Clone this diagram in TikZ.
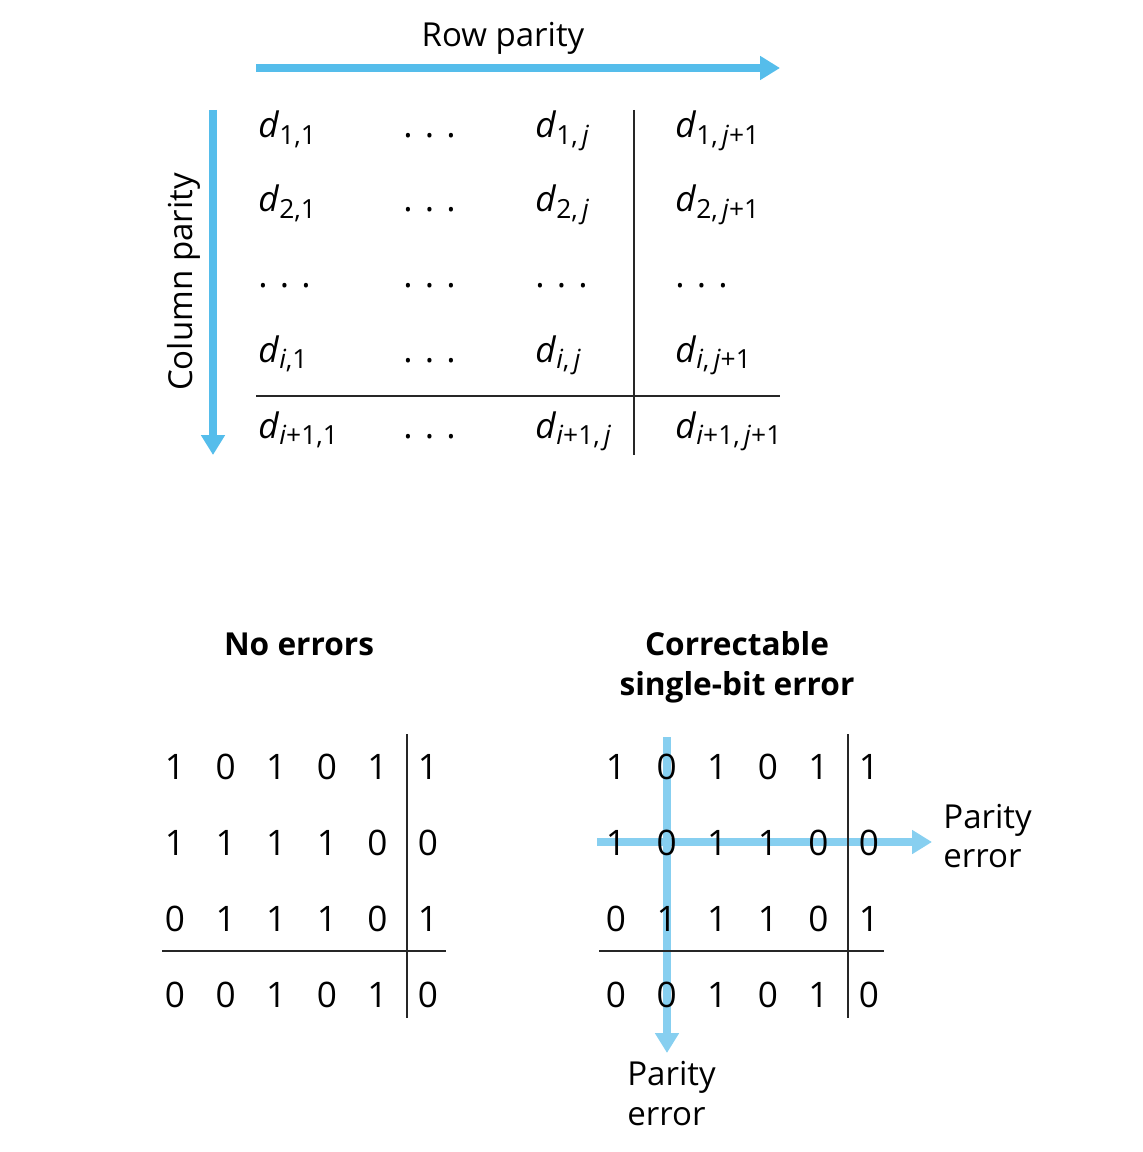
\documentclass[tikz,border=0pt]{standalone}
\usepackage{fontspec}
\setmainfont{Open Sans}
\usetikzlibrary{arrows.meta}

\definecolor{rowblue}{RGB}{85,189,235}
\definecolor{errblue}{RGB}{135,207,240}
% italic d with a lowered subscript
\newcommand{\dent}[1]{\textit{d}\raisebox{-3.6pt}{\fontsize{15}{15}\selectfont #1}}

\begin{document}
\begin{tikzpicture}[x=0.02cm, y=-0.02cm,
  lbl/.style={inner sep=0pt, font=\fontsize{18.8}{22}\selectfont},
  ttl/.style={inner sep=0pt, anchor=base, font=\fontsize{18}{22}\selectfont\bfseries},
  ent/.style={inner sep=0pt, anchor=base west, font=\fontsize{20}{22}\selectfont},
  bit/.style={inner sep=0pt, anchor=base, font=\fontsize{20}{24}\selectfont},
  rule/.style={line width=1.1pt, black!85},
  bluearrow/.style={line width=4.5pt, rowblue, -{Triangle[length=11.3pt,width=13pt]}},
  errarrow/.style={line width=4.5pt, errblue, -{Triangle[length=11.3pt,width=13pt]}}]
\useasboundingbox (0,0) rectangle (1142,1152);

% --- general layout ---
\node[lbl, anchor=base] (rowlbl) at (503,47) {Row parity};
\coordinate (rows) at (256,68); \coordinate (rowe) at (780,68);
\draw[bluearrow] (rows) -- (rowe);
\node[lbl, anchor=base, rotate=90] (collbl) at (192,282) {Column parity};
\coordinate (cols) at (213,110); \coordinate (cole) at (213,455);
\draw[bluearrow] (cols) -- (cole);

\node[ent] (d11) at (258,138) {\dent{1,1}};
\node[ent] (d12) at (403,138) {. . .};
\node[ent] (d13) at (535,138) {\dent{1,\,\textit{j}}};
\node[ent] (d14) at (675,138) {\dent{1,\,\textit{j}+1}};
\node[ent] (d21) at (258,212) {\dent{2,1}};
\node[ent] (d22) at (403,212) {. . .};
\node[ent] (d23) at (535,212) {\dent{2,\,\textit{j}}};
\node[ent] (d24) at (675,212) {\dent{2,\,\textit{j}+1}};
\foreach \x [count=\c] in {258,403,535,675}
  \node[ent] (d3\c) at (\x,287) {. . .};
\node[ent] (d41) at (258,362) {\dent{\textit{i},1}};
\node[ent] (d42) at (403,362) {. . .};
\node[ent] (d43) at (535,362) {\dent{\textit{i},\,\textit{j}}};
\node[ent] (d44) at (675,362) {\dent{\textit{i},\,\textit{j}+1}};
\node[ent] (d51) at (258,438) {\dent{\textit{i}+1,1}};
\node[ent] (d52) at (403,438) {. . .};
\node[ent] (d53) at (535,438) {\dent{\textit{i}+1,\,\textit{j}}};
\node[ent] (d54) at (675,438) {\dent{\textit{i}+1,\,\textit{j}+1}};
\draw[rule] (634,110) -- (634,455);
\draw[rule] (256,396) -- (780,396);

% --- no errors ---
\node[ttl] (noerr) at (299,655) {No errors};
\foreach \row [count=\r] in {{1,0,1,0,1,1},{1,1,1,1,0,0},{0,1,1,1,0,1},{0,0,1,0,1,0}}
  \foreach \b [count=\c] in \row
    \node[bit] (a\r\c) at ({175+50.6*(\c-1)},{779+76*(\r-1)}) {\b};
\draw[rule] (407,734) -- (407,1018);
\draw[rule] (162,951) -- (446,951);

% --- single-bit error ---
\node[ttl] (corr1) at (737,655) {Correctable};
\node[ttl] (corr2) at (737,695) {single-bit error};
\coordinate (vs) at (667,737); \coordinate (ve) at (667,1053);
\coordinate (hs) at (597,842); \coordinate (he) at (932,842);
\draw[errarrow] (vs) -- (ve);
\draw[errarrow] (hs) -- (he);
\foreach \row [count=\r] in {{1,0,1,0,1,1},{1,0,1,1,0,0},{0,1,1,1,0,1},{0,0,1,0,1,0}}
  \foreach \b [count=\c] in \row
    \node[bit] (b\r\c) at ({616+50.6*(\c-1)},{779+76*(\r-1)}) {\b};
\draw[rule] (848,734) -- (848,1018);
\draw[rule] (599,951) -- (884,951);
\node[lbl, anchor=base west] (rerr1) at (943,828) {Parity};
\node[lbl, anchor=base west] (rerr2) at (943,867) {error};
\node[lbl, anchor=base west] (cerr1) at (627,1085) {Parity};
\node[lbl, anchor=base west] (cerr2) at (627,1125) {error};
\end{tikzpicture}
\end{document}
